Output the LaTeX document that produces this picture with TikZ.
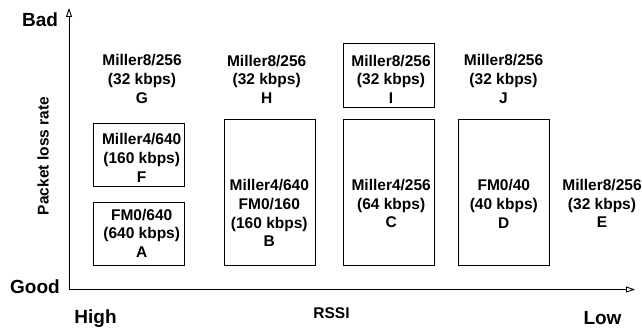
\documentclass[tikz,border=0pt]{standalone}
\usepackage{fontspec}
\setmainfont{Liberation Sans}
\usetikzlibrary{arrows.meta}
\begin{document}
\begin{tikzpicture}[x=1pt,y=-1pt,
  box/.style={draw=black, line width=0.9pt, inner sep=0pt},
  lbl/.style={inner sep=0pt, align=center, font=\bfseries\fontsize{15.5}{18.8}\selectfont},
  big/.style={inner sep=0pt, font=\bfseries\fontsize{19}{22}\selectfont},
  axis/.style={line width=0.9pt, -{Triangle[open, length=9pt, width=6pt]}}]
\useasboundingbox (0,0) rectangle (642,329);
% axes
\coordinate (O) at (69,289.5);
\coordinate (ytip) at (69,8);
\coordinate (xtip) at (635,289.5);
\draw[axis] (O) -- (ytip);
\draw[axis] (O) -- (xtip);
% axis labels
\node[big, anchor=base] (bad) at (40,27) {Bad};
\node[big, anchor=base] (good) at (35,293) {Good};
\node[big, anchor=base] (high) at (95.5,323) {High};
\node[big, anchor=base] (low) at (602.5,324) {Low};
\node[lbl, anchor=base] (rssi) at (331.5,318) {RSSI};
\node[lbl, rotate=90] (plr) at (43,156) {Packet loss rate};
% boxes
\node[box, minimum width=91, minimum height=63] (boxF) at (138.5,154.5) {};
\node[box, minimum width=91, minimum height=63] (boxA) at (138.5,233.5) {};
\node[box, minimum width=91, minimum height=146] (boxB) at (269.5,192) {};
\node[box, minimum width=91, minimum height=64] (boxI) at (388.5,75) {};
\node[box, minimum width=91, minimum height=146] (boxC) at (388.5,192) {};
\node[box, minimum width=91, minimum height=146] (boxD) at (503.5,192) {};
% texts
\node[lbl] (G) at (142,79.2) {Miller8/256\\(32 kbps)\\G};
\node[lbl] (H) at (266.7,79.2) {Miller8/256\\(32 kbps)\\H};
\node[lbl] (I) at (391,79.2) {Miller8/256\\(32 kbps)\\I};
\node[lbl] (J) at (503.5,79.2) {Miller8/256\\(32 kbps)\\J};
\node[lbl] (F) at (141.7,158) {Miller4/640\\(160 kbps)\\F};
\node[lbl] (A) at (141.7,233.2) {FM0/640\\(640 kbps)\\A};
\node[lbl] (B) at (269.3,213) {Miller4/640\\FM0/160\\(160 kbps)\\B};
\node[lbl] (C) at (391.2,203.5) {Miller4/256\\(64 kbps)\\C};
\node[lbl] (D) at (503.8,203.7) {FM0/40\\(40 kbps)\\D};
\node[lbl] (E) at (602,203.5) {Miller8/256\\(32 kbps)\\E};
\end{tikzpicture}
\end{document}
